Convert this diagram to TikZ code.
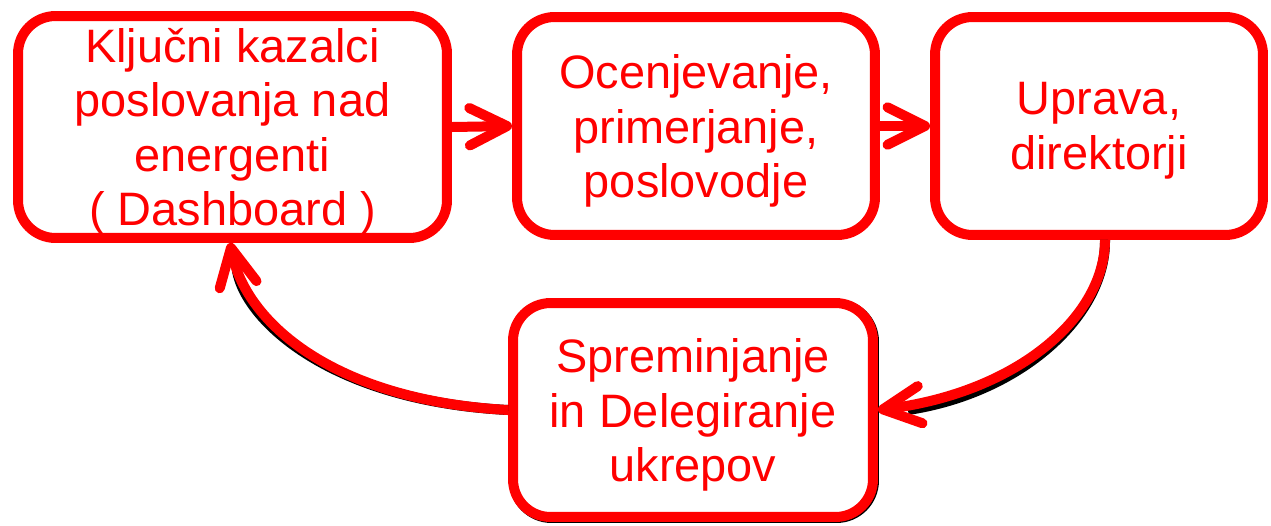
\documentclass[tikz,border=0pt]{standalone}
\usepackage{fontspec}
\setmainfont{Liberation Sans}
\usetikzlibrary{arrows.meta}
\definecolor{pptred}{RGB}{255,0,0}
\begin{document}
\begin{tikzpicture}[x=0.02cm,y=-0.02cm,
  box/.style={draw=pptred, line width=0.2cm, rounded corners=0.75cm, fill=white,
    text=pptred, align=center, inner sep=0pt, text depth=-0.06cm,
    font=\fontsize{26.7}{31}\selectfont},
  shadowbox/.style={draw=black, line width=0.2cm, rounded corners=0.75cm, inner sep=0pt},
  conn/.style={draw=pptred, line width=0.2cm,
    -{Straight Barb[length=0.75cm, width=0.75cm, round]}},
  connshadow/.style={draw=black, line width=0.2cm}]
\useasboundingbox (0,0) rectangle (1271,525);
% shadow of lower box
\node[shadowbox, minimum width=7.2cm, minimum height=4.28cm] at (694,411) {};
% boxes
\node[box, minimum width=8.58cm, minimum height=4.44cm] (b1) at (232.5,127)
  {Ključni kazalci\\poslovanja nad\\energenti\\( Dashboard )};
\node[box, minimum width=7.16cm, minimum height=4.36cm] (b2) at (696,126)
  {Ocenjevanje,\\primerjanje,\\poslovodje};
\node[box, minimum width=6.56cm, minimum height=4.36cm] (b3) at (1099,126)
  {Uprava,\\direktorji};
\node[box, minimum width=7.2cm, minimum height=4.28cm] (b4) at (693,410)
  {Spreminjanje\\in Delegiranje\\ukrepov};
% shadows of curved connectors
\draw[connshadow, shift={(1,1)}] ([xshift=0.12cm]b3.south) .. controls (1105,315) and (1020,392) .. ([xshift=0.6cm]b4.east);
\draw[connshadow, shift={(1,1)}] (b4.west) .. controls (330,400) and (245,320) .. (236,270);
% connectors
\draw[conn] (b1.east) -- (b2.west);
\draw[conn] (b2.east) -- (b3.west);
\draw[conn] ([xshift=0.12cm]b3.south) .. controls (1105,315) and (1020,392) .. (b4.east);
\draw[conn] (b4.west) .. controls (330,400) and (245,320) .. ([xshift=-0.05cm]b1.south);
\end{tikzpicture}
\end{document}
